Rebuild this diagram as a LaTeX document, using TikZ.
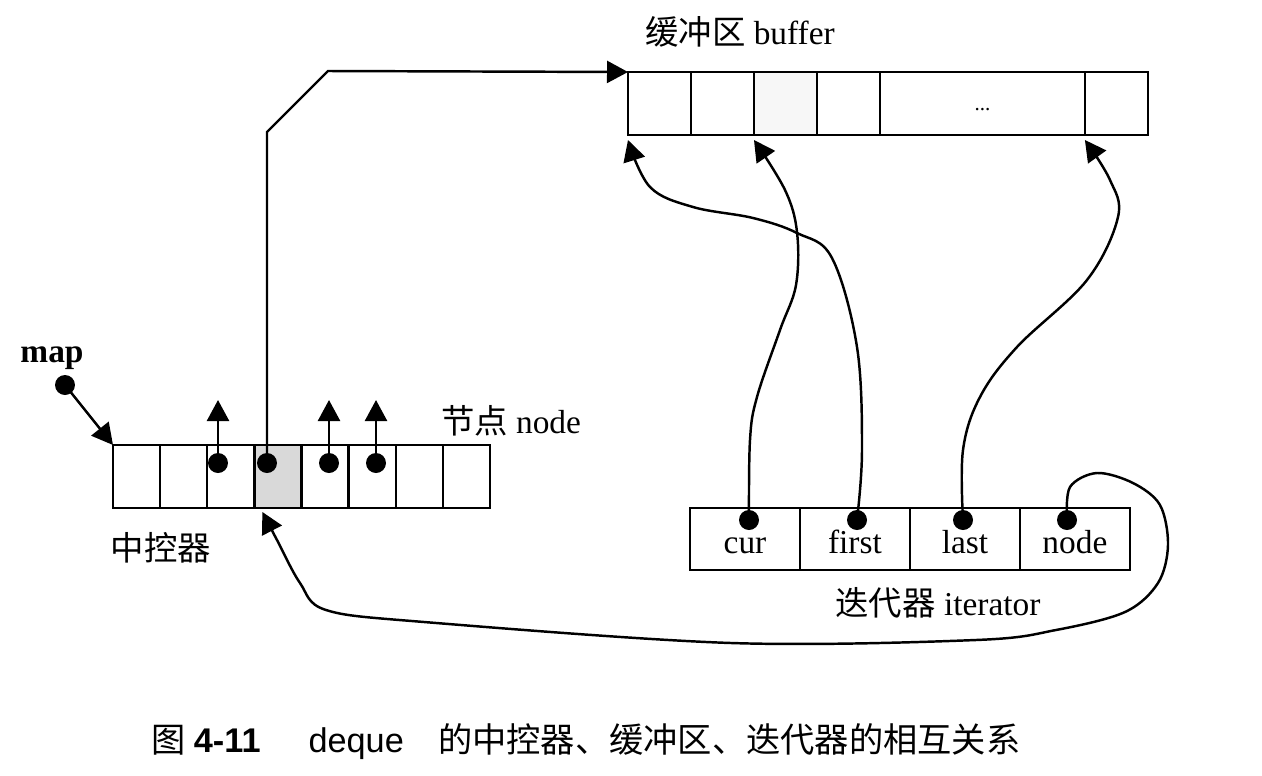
\documentclass[tikz,border=0pt]{standalone}
\usepackage{fontspec}
\setmainfont{Liberation Serif}
\setsansfont{Liberation Sans}
\newfontfamily\cjk{Noto Sans CJK SC}
\usetikzlibrary{positioning,arrows.meta}

\begin{document}
\begin{tikzpicture}[x=0.02cm,y=-0.02cm,line width=1.4pt,node distance=0pt,
  cell/.style={draw,minimum width=0.9425cm,minimum height=1.26cm,inner sep=0pt,outer sep=0pt},
  bcell/.style={draw,minimum width=1.26cm,minimum height=1.26cm,inner sep=0pt,outer sep=0pt},
  icell/.style={draw,minimum width=2.2cm,minimum height=1.24cm,inner sep=0pt,outer sep=0pt,
    text height=17pt,text depth=0pt,font=\fontsize{19}{22}\selectfont},
  dot/.style={circle,fill,inner sep=0pt,minimum size=0.4cm},
  lbl/.style={font=\fontsize{19}{22}\selectfont},
  arr/.style={-{Triangle[length=0.42cm,width=0.44cm]}}]
\useasboundingbox (0,0) rectangle (1262,775);
% map (central controller)
\foreach \i/\c in {1/white,2/white,3/white,4/gray!30,5/white,6/white,7/white,8/white}
  \node[cell,fill=\c] (m\i) at ({113+47.125*(\i-0.5)},476.5) {};
\node[lbl,font=\fontsize{19}{22}\selectfont\bfseries] (tmap) at (52,358) {map};
\node[dot] (dmap) at (65,385) {};
\node[lbl] (tnode) at (511,421) {{\cjk 节点} node};
\node[lbl] (tctrl) at (161,548) {\cjk 中控器};
\node[dot] (d3) at (218,463) {};
\node[dot] (d4) at (267,463) {};
\node[dot] (d5) at (329,463) {};
\node[dot] (d6) at (376,463) {};
% buffer
\node[bcell,anchor=north west] (b1) at (628,72) {};
\node[bcell,right=of b1] (b2) {};
\node[bcell,right=of b2,fill=gray!6] (b3) {};
\node[bcell,right=of b3] (b4) {};
\node[bcell,right=of b4,minimum width=4.1cm] (b5) {};
\node[bcell,right=of b5] (b6) {};
\node[font=\large,inner sep=0pt] (bdots) at ([yshift=-0.12cm]b5.center) {...};
\node[lbl] (tbuf) at (740,32) {{\cjk 缓冲区} buffer};
% iterator
\node[icell,anchor=north west] (i1) at (690,508) {cur};
\node[icell,right=of i1] (i2) {first};
\node[icell,right=of i2] (i3) {last};
\node[icell,right=of i3] (i4) {node};
\node[lbl] (titer) at (938,603) {{\cjk 迭代器} iterator};
\node[dot] (pcur) at (749,520) {};
\node[dot] (pfirst) at (857,520) {};
\node[dot] (plast) at (963,520) {};
\node[dot] (pnode) at (1067,520) {};
% connectors
\draw[arr] (dmap.center) -- (m1.north west);
\foreach \d in {d3,d5,d6} \draw[arr] (\d.center) -- ++(0,-63);
\draw[arr] (d4.center) -- (267,132) -- (328,71) -- (b1.north west);
\draw[arr] plot[smooth,tension=0.6] coordinates {(pcur.center) (750,440) (757,397) (780,330) (796,285) (797,232) (785,190) ([yshift=-0.1cm]b3.south west)};
\draw[arr] plot[smooth,tension=0.6] coordinates {(pfirst.center) (862,450) (857,347) (832,258) (797,233) (753,218) (693,207) (650,187) ([yshift=-0.1cm]b1.south west)};
\draw[arr] plot[smooth,tension=0.6] coordinates {(plast.center) (963,450) (980,397) (1017,347) (1087,280) (1118,217) (1110,180) ([yshift=-0.1cm]b6.south west)};
\draw[arr] plot[smooth,tension=0.55] coordinates {(pnode.center) (1070,487) (1097,473) (1133,483) (1160,505) (1168,545) (1158,583) (1125,612) (1056,630) (976,640) (731,643) (424,622) (326,610) (300,583) (277,540) ([shift={(0.16cm,-0.08cm)}]m4.south west)};
% caption
\node[anchor=west,font=\fontsize{19.5}{22}\selectfont] (cap) at (144,742)
  {{\cjk 图} \textsf{\textbf{4-11}}\hspace{1.4em}\textsf{deque}\hspace{1em}{\cjk 的中控器、缓冲区、迭代器的相互关系}};
\end{tikzpicture}
\end{document}
